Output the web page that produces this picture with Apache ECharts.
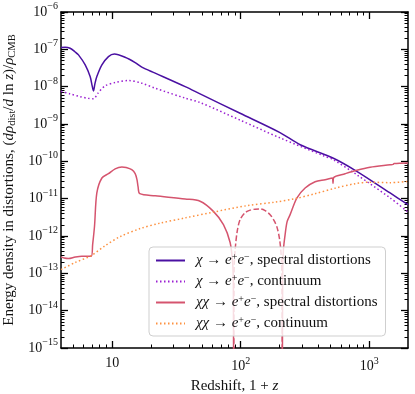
<!DOCTYPE html>
<html>
<head>
<meta charset="utf-8">
<script src="https://cdn.jsdelivr.net/npm/echarts@6/dist/echarts.min.js"></script>
<style>
  html, body { margin: 0; padding: 0; background: #fff; }
  #root { width: 415px; height: 394px; }
</style>
</head>
<body>
<div id="root"></div>
<script>
// x = 1 + z, y = energy density fraction
const chiSdZ = [4.0, 4.31, 4.71, 5.16, 5.47, 6.17, 6.74, 6.99, 7.15, 7.34, 7.60, 8.32, 9.36, 10.4, 12.6, 15.1, 17.0, 21.6, 37.0, 48.3, 98.9, 202, 290, 526, 799, 1451, 2000];
const chiSdVal = [1.12e-7, 1.14e-7, 1.07e-7, 8.5e-8, 7.1e-8, 3.83e-8, 1.86e-8, 1.05e-8, 7.7e-9, 1.19e-8, 1.86e-8, 3.83e-8, 6.4e-8, 7.5e-8, 6.15e-8, 4.41e-8, 3.32e-8, 2.3e-8, 1.0e-8, 6.4e-9, 1.94e-9, 5.9e-10, 2.78e-10, 1.21e-10, 5.4e-11, 1.42e-11, 6.9e-12];

const chiContZ = [4.0, 4.71, 5.64, 6.51, 7.15, 7.78, 8.82, 10.55, 13.4, 17.0, 21.6, 37.0, 48.3, 98.9, 202, 440, 526, 799, 1451, 2000];
const chiContVal = [7.5e-9, 6.4e-9, 5.4e-9, 4.86e-9, 4.72e-9, 6.8e-9, 1.05e-8, 1.29e-8, 1.46e-8, 1.24e-8, 9.1e-9, 4.93e-9, 3.76e-9, 1.27e-9, 4.25e-10, 1.41e-10, 1.10e-10, 4.38e-11, 1.05e-11, 4.37e-12];

// chi chi spectral distortions: positive part (solid) and negative part (dashed, |value|)
const chichiSdZ1 = [4.0, 4.23, 4.57, 5.16, 5.81, 6.87, 7.05, 7.29, 7.60, 8.32, 9.36, 10.55, 11.9, 12.85, 14.2, 15.1, 15.6, 15.9, 16.4, 21.6, 37.0, 48.3, 61.3, 73.4, 82.7, 86.5, 87.6, 88.1];
const chichiSdVal1 = [2.76e-13, 2.57e-13, 2.49e-13, 2.73e-13, 2.87e-13, 2.87e-13, 5.9e-13, 1.82e-12, 1.42e-11, 3.58e-11, 4.66e-11, 6.3e-11, 7.05e-11, 6.8e-11, 5.96e-11, 4.66e-11, 3.22e-11, 2.09e-11, 1.36e-11, 1.2e-11, 9.8e-12, 8.5e-12, 4.57e-12, 2.02e-12, 6.7e-13, 1.9e-13, 5.7e-14, 1e-17];
const chichiNegZ = [88.2, 88.9, 90.5, 93.8, 98.9, 108.2, 118.3, 129.4, 141.5, 154.8, 169.3, 181.8, 191.9, 200.7, 206.2, 209.2, 210.7];
const chichiNegVal = [1e-17, 1.5e-13, 4.3e-13, 1.31e-12, 2.75e-12, 4.23e-12, 4.93e-12, 5.24e-12, 5.3e-12, 4.77e-12, 3.73e-12, 2.58e-12, 1.68e-12, 8.0e-13, 3.18e-13, 6.8e-14, 1e-17];
const chichiSdZ2 = [210.7, 212.1, 214.8, 221.4, 229.5, 242.2, 273.1, 316.8, 378.9, 453.2, 516.5, 522.1, 528.7, 648.3, 799, 1014, 1451, 1531, 1559, 2000];
const chichiSdVal2 = [1e-17, 1.26e-13, 4.32e-13, 1.09e-12, 2.43e-12, 3.73e-12, 1.04e-11, 1.93e-11, 2.85e-11, 3.22e-11, 3.55e-11, 2.6e-11, 3.7e-11, 4.66e-11, 5.78e-11, 6.95e-11, 8.1e-11, 8.3e-11, 8.7e-11, 9.0e-11];

const chichiContZ = [4.0, 5.16, 6.87, 8.82, 11.54, 16.5, 23.6, 37.0, 61.0, 112.2, 185.1, 264.9, 378.9, 542.1, 775.5, 1014, 1451, 2000];
const chichiContVal = [1.26e-13, 1.95e-13, 2.99e-13, 5.5e-13, 9.6e-13, 1.58e-12, 2.21e-12, 3.05e-12, 4.36e-12, 6.5e-12, 8.06e-12, 1.0e-11, 1.36e-11, 1.91e-11, 2.52e-11, 2.76e-11, 2.68e-11, 2.9e-11];

const xRange = [4, 2000];
const xMajorExp = [1, 2, 3];
const yMajorExp = [-15, -14, -13, -12, -11, -10, -9, -8, -7, -6];

const names = [
  'χ → e+e−, spectral distortions',
  'χ → e+e−, continuum',
  'χχ → e+e−, spectral distortions',
  'χχ → e+e−, continuum'
];
const legendText = {
  [names[0]]: '{i|χ} → {i|e}{s|+}{i|e}{s|−}, spectral distortions',
  [names[1]]: '{i|χ} → {i|e}{s|+}{i|e}{s|−}, continuum',
  [names[2]]: '{i|χχ} → {i|e}{s|+}{i|e}{s|−}, spectral distortions',
  [names[3]]: '{i|χχ} → {i|e}{s|+}{i|e}{s|−}, continuum'
};

const FONT = 'Liberation Serif';
const lg = Math.log10;

// minor tick positions (log space)
const xMinor = [];
for (let e = 0; e <= 3; e++) {
  for (let k = 2; k <= 9; k++) {
    let v = k * Math.pow(10, e);
    if (v > xRange[0] && v < xRange[1]) xMinor.push(lg(v));
  }
}
const yMinor = [];
for (let e = -15; e < -6; e++) {
  for (let k = 2; k <= 9; k++) yMinor.push(lg(k) + e);
}

function pairs(zs, vs) {
  return zs.map((z, i) => [lg(z), lg(vs[i])]);
}

function expLabel(v) {
  let n = Math.round(v);
  if (n === 1) return '{b|10}';
  return '{b|10}{s|' + (n < 0 ? '−' : '') + Math.abs(n) + '}';
}

const tickRich = {
  b: { fontSize: 14, fontFamily: FONT, color: '#111' },
  s: { fontSize: 10, fontFamily: FONT, color: '#111', verticalAlign: 'top', padding: [0, 0, 11, 0] }
};

function xAxisOf(pos, major, withLabels) {
  return {
    type: 'value',
    position: pos,
    min: lg(xRange[0]),
    max: lg(xRange[1]),
    axisLine: { show: major, lineStyle: { color: '#000', width: 1.5 } },
    axisTick: {
      show: true, inside: true, length: major ? 7 : 3.5,
      customValues: major ? xMajorExp : xMinor,
      lineStyle: { color: '#000', width: major ? 1.3 : 1 }
    },
    axisLabel: withLabels ? {
      show: true, customValues: xMajorExp, formatter: expLabel, margin: 8, rich: tickRich
    } : { show: false },
    splitLine: { show: false },
    name: withLabels ? 'Redshift, 1 + {i|z}' : '',
    nameLocation: 'middle',
    nameGap: 18,
    nameTextStyle: {
      fontSize: 15, fontFamily: FONT, color: '#111',
      rich: { i: { fontSize: 15, fontFamily: FONT, fontStyle: 'italic', color: '#111' } }
    }
  };
}

function yAxisOf(pos, major, withLabels) {
  return {
    type: 'value',
    position: pos,
    min: -15,
    max: -6,
    axisLine: { show: major, lineStyle: { color: '#000', width: 1.5 } },
    axisTick: {
      show: true, inside: true, length: major ? 7 : 3.5,
      customValues: major ? yMajorExp : yMinor,
      lineStyle: { color: '#000', width: major ? 1.3 : 1 }
    },
    axisLabel: withLabels ? {
      show: true, customValues: yMajorExp, formatter: expLabel, margin: 3, rich: tickRich
    } : { show: false },
    splitLine: { show: false },
    name: withLabels ? 'Energy density in distortions, ({i|dρ}{sub|dist}/{i|d} ln {i|z})/{i|ρ}{sub|CMB}' : '',
    nameLocation: 'middle',
    nameGap: 39,
    nameTextStyle: {
      fontSize: 15, fontFamily: FONT, color: '#111',
      rich: {
        i: { fontSize: 15, fontFamily: FONT, fontStyle: 'italic', color: '#111' },
        sub: { fontSize: 10.5, fontFamily: FONT, color: '#111', verticalAlign: 'bottom', padding: [6, 0, 0, 0] }
      }
    }
  };
}

function lineSeries(name, data, color, type) {
  return {
    name: name,
    type: 'line',
    data: data,
    xAxisIndex: 0,
    yAxisIndex: 0,
    symbol: 'none',
    smooth: 0.3,
    clip: true,
    animation: false,
    lineStyle: { color: color, width: 1.5, type: type, cap: 'butt' },
    itemStyle: { color: color }
  };
}

let myChart = echarts.init(document.getElementById('root'));

let option = {
  backgroundColor: '#fff',
  animation: false,
  grid: { left: 61, right: 7, top: 12, bottom: 46, outerBoundsMode: 'none' },
  legend: {
    data: names,
    orient: 'vertical',
    left: 149,
    top: 247,
    itemWidth: 29,
    itemHeight: 10,
    itemGap: 5,
    padding: [5, 8, 5, 6],
    backgroundColor: 'rgba(255,255,255,0.8)',
    borderColor: '#cfcfcf',
    borderWidth: 1,
    borderRadius: 4,
    itemStyle: { opacity: 0 },
    formatter: (n) => legendText[n],
    textStyle: {
      fontSize: 15, fontFamily: FONT, color: '#111',
      padding: [0, 0, 0, 6],
      rich: {
        i: { fontSize: 15, fontFamily: FONT, fontStyle: 'italic', color: '#111' },
        s: { fontSize: 10, fontFamily: FONT, color: '#111', verticalAlign: 'top', padding: [0, 0, 7, 0] }
      }
    }
  },
  xAxis: [
    xAxisOf('bottom', true, true),
    xAxisOf('bottom', false, false),
    xAxisOf('top', true, false),
    xAxisOf('top', false, false)
  ],
  yAxis: [
    yAxisOf('left', true, true),
    yAxisOf('left', false, false),
    yAxisOf('right', true, false),
    yAxisOf('right', false, false)
  ],
  series: [
    lineSeries(names[0], pairs(chiSdZ, chiSdVal), '#4a10a2', 'solid'),
    lineSeries(names[1], pairs(chiContZ, chiContVal), '#9b20d2', [1.5, 2.5]),
    lineSeries(names[2], pairs(chichiSdZ1, chichiSdVal1), '#d5546e', 'solid'),
    lineSeries(names[2] + ' (neg)', pairs(chichiNegZ, chichiNegVal), '#d5546e', [5.5, 2.4]),
    lineSeries(names[2], pairs(chichiSdZ2, chichiSdVal2), '#d5546e', 'solid'),
    lineSeries(names[3], pairs(chichiContZ, chichiContVal), '#fd9140', [1.5, 2.5])
  ]
};

myChart.setOption(option);
</script>
</body>
</html>
